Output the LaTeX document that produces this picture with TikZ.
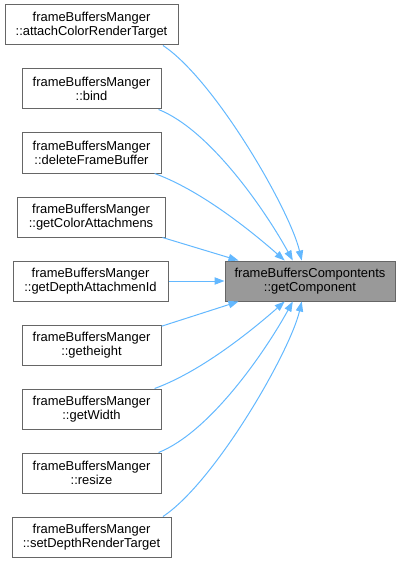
\documentclass[tikz,border=0pt]{standalone}
\usepackage{fontspec}
\setmainfont{Liberation Sans}
\usepackage{xcolor}
\definecolor{dxEdge}{HTML}{63B8FF}
\definecolor{dxBorder}{HTML}{666666}
\definecolor{dxTarget}{HTML}{999999}
\usepackage{tikz}
\usetikzlibrary{arrows.meta}

\begin{document}
\begin{tikzpicture}[
    x=0.75pt, y=-0.75pt,
    callerNode/.style={
        rectangle, draw=dxBorder, line width=0.75pt,
        fill=white, text=black,
        font=\fontsize{9.7}{10.5}\selectfont,
        align=center, inner sep=2pt, minimum height=30pt
    },
    targetNode/.style={
        callerNode, fill=dxTarget
    },
    callLine/.style={
        -{Triangle[length=7.5pt, width=5.5pt]}, line width=0.75pt, draw=dxEdge
    }
]
    \useasboundingbox (0,0) rectangle (404,563);

    % Nodes
    \node[targetNode, minimum width=127.5pt] (getComp) at (310, 281) {frameBuffersCompontents\\::getComponent};

    \node[callerNode, minimum width=129.75pt] (attachColor) at (91.5, 25) {frameBuffersManger\\::attachColorRenderTarget};
    \node[callerNode, minimum width=104.25pt] (bind) at (91.5, 89) {frameBuffersManger\\::bind};
    \node[callerNode, minimum width=104.25pt] (deleteFB) at (91.5, 153) {frameBuffersManger\\::deleteFrameBuffer};
    \node[callerNode, minimum width=111pt] (getColorAtt) at (91, 217) {frameBuffersManger\\::getColorAttachmens};
    \node[callerNode, minimum width=116.25pt] (getDepthAtt) at (90.5, 281) {frameBuffersManger\\::getDepthAttachmenId};
    \node[callerNode, minimum width=104.25pt] (getHeight) at (91.5, 345) {frameBuffersManger\\::getheight};
    \node[callerNode, minimum width=104.25pt] (getWidth) at (91.5, 409) {frameBuffersManger\\::getWidth};
    \node[callerNode, minimum width=104.25pt] (resize) at (91.5, 473) {frameBuffersManger\\::resize};
    \node[callerNode, minimum width=119.25pt] (setDepth) at (91.5, 537) {frameBuffersManger\\::setDepthRenderTarget};

    % Connections
    \draw[callLine] (attachColor.-16) .. controls (215, 80) and (290, 210) .. (getComp.112);
    \draw[callLine] (bind.-17.5) .. controls (210, 130) and (265, 210) .. (getComp.130.6);
    \draw[callLine] (deleteFB.-18) .. controls (200, 190) and (250, 230) .. (getComp.141.8);
    \draw[callLine] (getColorAtt.-16) -- (getComp.164.5);
    \draw[callLine] (getDepthAtt) -- (getComp);
    \draw[callLine] (getHeight.15.8) -- (getComp.-164.5);
    \draw[callLine] (getWidth.18) .. controls (200, 372) and (250, 332) .. (getComp.-141.8);
    \draw[callLine] (resize.17.5) .. controls (210, 432) and (265, 352) .. (getComp.-130.6);
    \draw[callLine] (setDepth.16.3) .. controls (215, 482) and (290, 352) .. (getComp.-112);

\end{tikzpicture}
\end{document}
